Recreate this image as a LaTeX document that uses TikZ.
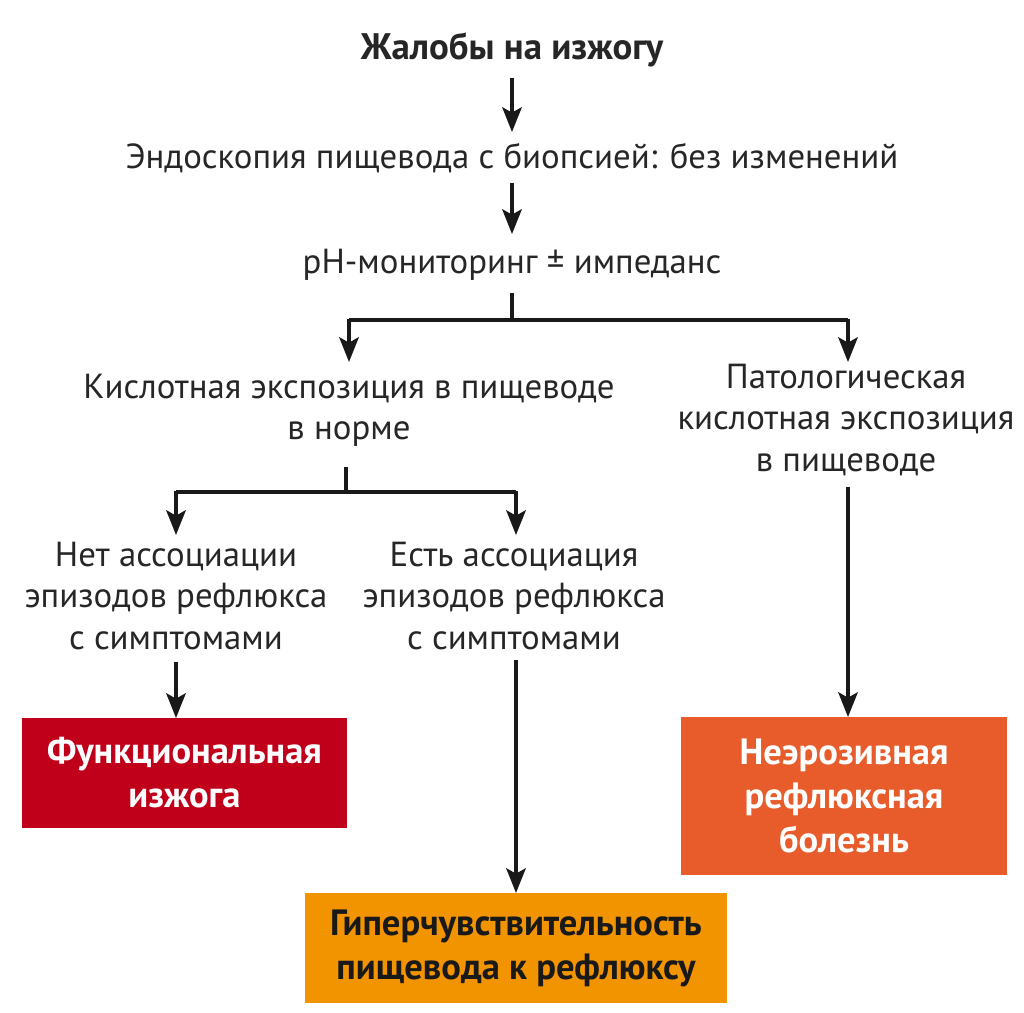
\documentclass[tikz,border=0pt]{standalone}
\usepackage{fontspec}
\setmainfont{PT Sans}
\usetikzlibrary{arrows.meta}
\definecolor{redbox}{HTML}{C0001A}
\definecolor{orangebox}{HTML}{F29400}
\definecolor{brickbox}{HTML}{E85C2C}
\begin{document}
\begin{tikzpicture}[x=0.02cm,y=-0.02cm,
  arr/.style={-{Stealth[length=14pt,width=11pt,inset=3pt]},line width=2.4pt,black!90},
  line/.style={line width=2.4pt,black!90},
  txt/.style={align=center,font=\fontsize{19.8}{23.5}\selectfont,text=black!85},
  result/.style={align=center,font=\fontsize{20.8}{25}\selectfont\bfseries,text=white}]
\useasboundingbox (0,0) rectangle (1024,1012);

\node[txt,font=\fontsize{21}{24}\selectfont\bfseries] (compl) at (512,50) {Жалобы на изжогу};
\node[txt] (endo) at (512,158) {Эндоскопия пищевода с биопсией: без изменений};
\node[txt] (ph) at (512,265) {pH-мониторинг ± импеданс};
\node[txt] (norm) at (349,410) {Кислотная экспозиция в пищеводе\\в норме};
\node[txt] (path) at (846,420) {Патологическая\\кислотная экспозиция\\в пищеводе};
\node[txt] (noass) at (176,596) {Нет ассоциации\\эпизодов рефлюкса\\с симптомами};
\node[txt] (ass) at (514,596) {Есть ассоциация\\эпизодов рефлюкса\\с симптомами};

\node[result,fill=redbox,minimum width=325*0.02cm,minimum height=110*0.02cm] (func) at (184.5,773) {Функциональная\\изжога};
\node[result,fill=brickbox,minimum width=326*0.02cm,minimum height=158*0.02cm] (nerd) at (844,796) {Неэрозивная\\рефлюксная\\болезнь};
\node[result,fill=orangebox,text=black!90,minimum width=422*0.02cm,minimum height=110*0.02cm] (hyper) at (516,948) {Гиперчувствительность\\пищевода к рефлюксу};

% стрелки
\draw[arr] (512,78) -- (512,132);
\draw[arr] (512,183) -- (512,234);
\draw[line] (512,293) -- (512,320);
\draw[line] (349,320) -- (848,320);
\draw[arr] (349,319) -- (349,362);
\draw[arr] (848,319) -- (848,362);
\draw[line] (346,467) -- (346,492);
\draw[line] (176,492) -- (516,492);
\draw[arr] (176,491) -- (176,535);
\draw[arr] (516,491) -- (516,535);
\draw[arr] (176,662) -- (176,718);
\draw[arr] (516,660) -- (516,893);
\draw[arr] (848,487) -- (848,717);
\end{tikzpicture}
\end{document}
